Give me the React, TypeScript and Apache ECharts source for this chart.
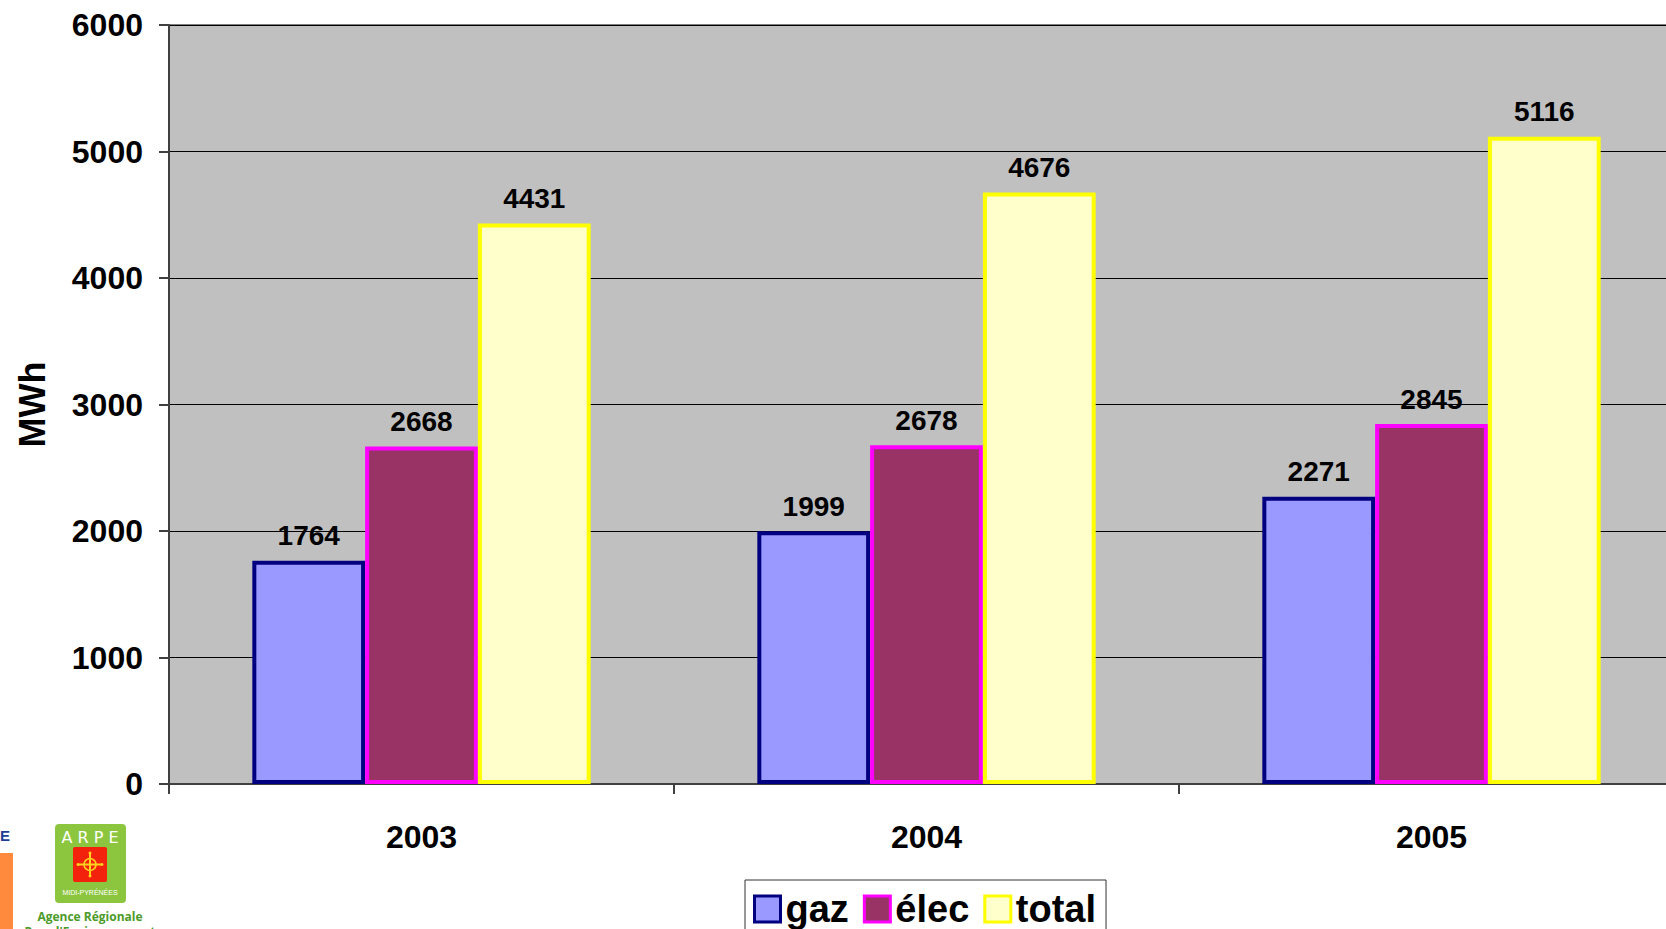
import React, { useEffect, useRef } from "react";
import * as echarts from "echarts";

const categories = ["2003", "2004", "2005"];
const gaz = [1764, 1999, 2271];
const elec = [2668, 2678, 2845];
const total = [4431, 4676, 5116];
const seriesNames = ["gaz", "élec", "total"];
const yAxisTitle = "MWh";

const FONT = "'Liberation Sans', Arial, sans-serif";

export default function App() {
  const ref = useRef<HTMLDivElement>(null);

  useEffect(() => {
    if (!ref.current) return;
    const chart = echarts.init(ref.current, undefined, { renderer: "svg" });

    const styles = [
      { color: "#9999ff", borderColor: "#000080" },
      { color: "#993366", borderColor: "#ff00ff" },
      { color: "#ffffcc", borderColor: "#ffff00" },
    ];
    const values = [gaz, elec, total];

    const label = {
      show: true,
      position: "top",
      distance: 11,
      fontSize: 28,
      fontWeight: "bold",
      fontFamily: FONT,
      color: "#000",
    };

    chart.setOption({
      animation: false,
      backgroundColor: "#ffffff",
      textStyle: { fontFamily: FONT },
      grid: {
        left: 169,
        top: 25,
        width: 1515,
        height: 759,
        outerBoundsMode: "none",
        containLabel: false,
        show: true,
        backgroundColor: "#c0c0c0",
        borderColor: "#808080",
        borderWidth: 2,
      },
      legend: {
        left: 745,
        top: 880,
        orient: "horizontal",
        borderColor: "#333",
        borderWidth: 1,
        padding: [10, 10, 6, 8],
        itemWidth: 26,
        itemHeight: 26,
        itemGap: 14,
        icon: "rect",
        textStyle: { fontSize: 38, fontWeight: "bold", color: "#000", fontFamily: FONT },
        data: seriesNames.map((n, i) => ({
          name: n,
          icon: "rect",
          itemStyle: { color: styles[i].color, borderColor: styles[i].borderColor, borderWidth: 3 },
        })),
      },
      xAxis: {
        type: "category",
        data: categories,
        axisLine: { show: true, lineStyle: { color: "#404040", width: 2 } },
        axisTick: { show: true, alignWithLabel: false, length: 10, lineStyle: { color: "#404040", width: 2 } },
        axisLabel: { fontSize: 32, fontWeight: "bold", color: "#000", margin: 37, fontFamily: FONT },
        splitLine: { show: false },
      },
      yAxis: {
        type: "value",
        min: 0,
        max: 6000,
        interval: 1000,
        name: yAxisTitle,
        nameLocation: "middle",
        nameRotate: 90,
        nameGap: 119,
        nameTextStyle: { fontSize: 36, fontWeight: "bold", color: "#000", fontFamily: FONT },
        axisLine: { show: true, lineStyle: { color: "#404040", width: 2 } },
        axisTick: { show: true, length: 10, lineStyle: { color: "#404040", width: 2 } },
        axisLabel: {
          fontSize: 32,
          fontWeight: "bold",
          color: "#000",
          margin: 26,
          fontFamily: FONT,
          formatter: (v: number) => String(v),
        },
        splitLine: { show: true, lineStyle: { color: "#000", width: 1 } },
      },
      series: seriesNames.map((n, i) => ({
        name: n,
        type: "bar",
        data: values[i],
        barGap: "0%",
        barCategoryGap: "33%",
        itemStyle: { color: styles[i].color, borderColor: styles[i].borderColor, borderWidth: 4 },
        label,
      })),
      graphic: [
        { type: "rect", shape: { x: 0, y: 853, width: 13, height: 80 }, style: { fill: "#ff8a3d" } },
        {
          type: "text",
          x: 10,
          y: 835,
          style: { text: "E", fill: "#1f3f93", fontSize: 15, fontWeight: "bold", fontFamily: FONT, align: "right", verticalAlign: "middle" },
        },
        { type: "rect", shape: { x: 55, y: 824, width: 71, height: 79, r: 4 }, style: { fill: "#8cc63f" } },
        {
          type: "text",
          x: 90,
          y: 837,
          style: { text: "A R P E", fill: "#ffffff", fontSize: 16, fontFamily: "'DejaVu Sans', sans-serif", align: "center", verticalAlign: "middle" },
        },
        { type: "rect", shape: { x: 73, y: 847, width: 34, height: 35, r: 2 }, style: { fill: "#f2220c" } },
        { type: "line", shape: { x1: 90, y1: 853, x2: 90, y2: 876 }, style: { stroke: "#ffd21f", lineWidth: 2 } },
        { type: "line", shape: { x1: 78, y1: 864.5, x2: 102, y2: 864.5 }, style: { stroke: "#ffd21f", lineWidth: 2 } },
        { type: "circle", shape: { cx: 90, cy: 864.5, r: 6 }, style: { fill: "none", stroke: "#ffd21f", lineWidth: 1.5 } },
        { type: "circle", shape: { cx: 90, cy: 853, r: 1.5 }, style: { fill: "#ffd21f" } },
        { type: "circle", shape: { cx: 90, cy: 876, r: 1.5 }, style: { fill: "#ffd21f" } },
        { type: "circle", shape: { cx: 78, cy: 864.5, r: 1.5 }, style: { fill: "#ffd21f" } },
        { type: "circle", shape: { cx: 102, cy: 864.5, r: 1.5 }, style: { fill: "#ffd21f" } },
        {
          type: "text",
          x: 90,
          y: 892,
          style: { text: "MIDI-PYRÉNÉES", fill: "#ffffff", fontSize: 7, fontFamily: FONT, align: "center", verticalAlign: "middle" },
        },
        {
          type: "text",
          x: 90,
          y: 916,
          style: { text: "Agence Régionale", fill: "#4c9a2a", fontSize: 12, fontWeight: "bold", fontFamily: "'Open Sans', sans-serif", align: "center", verticalAlign: "middle" },
        },
        {
          type: "text",
          x: 90,
          y: 931,
          style: { text: "Pour l'Environnement", fill: "#4c9a2a", fontSize: 12, fontWeight: "bold", fontFamily: "'Open Sans', sans-serif", align: "center", verticalAlign: "middle" },
        },
      ],
    });

    return () => chart.dispose();
  }, []);

  return (
    <div
      ref={ref}
      style={{ position: "fixed", left: 0, top: 0, width: 1666, height: 929, background: "#fff" }}
    />
  );
}
